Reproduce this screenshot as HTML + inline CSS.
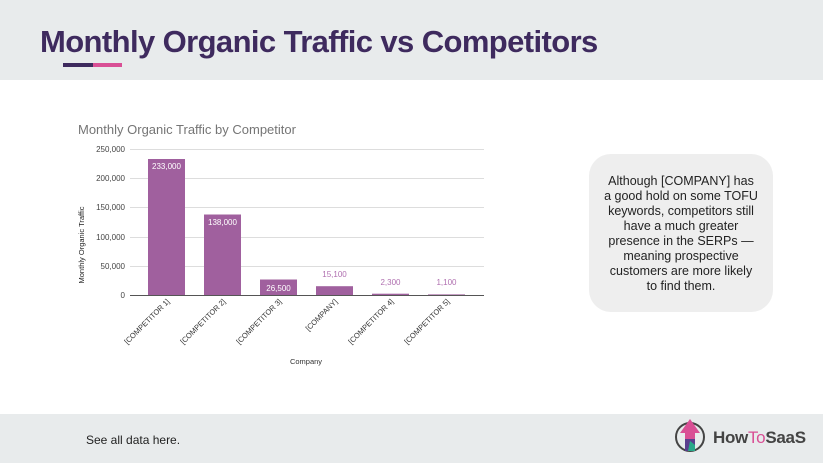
<!DOCTYPE html>
<html><head><meta charset="utf-8"><style>
html,body{margin:0;padding:0;}
body{width:823px;height:463px;position:relative;background:#fff;overflow:hidden;font-family:"Liberation Sans",sans-serif;}
.hdr{position:absolute;left:0;top:0;width:823px;height:80px;background:#e8ebec;}
.title{position:absolute;left:40px;top:24px;font-size:31px;font-weight:bold;color:#3e2a5e;letter-spacing:-0.6px;white-space:nowrap;}
.bar1{position:absolute;left:63px;top:63px;width:30px;height:4px;background:#3e2a5e;}
.bar2{position:absolute;left:93px;top:63px;width:29px;height:4px;background:#d94f95;}
.ftr{position:absolute;left:0;top:414px;width:823px;height:49px;background:#e8ebec;}
.see{position:absolute;left:86px;top:433px;font-size:12px;color:#222;}
.box{position:absolute;left:589px;top:154px;width:184px;height:158px;background:#eeeeee;border-radius:22px;}
.box div{position:absolute;left:0;top:20px;width:184px;text-align:center;font-size:12.5px;line-height:15px;color:#222;}
</style></head><body>
<div class="hdr"></div>
<div class="title">Monthly Organic Traffic vs Competitors</div>
<div class="bar1"></div><div class="bar2"></div>
<svg style="position:absolute;left:0;top:0" width="823" height="463" font-family="Liberation Sans, sans-serif">
<text x="78" y="134" font-size="13" fill="#757575">Monthly Organic Traffic by Competitor</text>
<g stroke="#dddddd" stroke-width="1">
<line x1="130" y1="149.5" x2="484" y2="149.5"/>
<line x1="130" y1="178.5" x2="484" y2="178.5"/>
<line x1="130" y1="207.5" x2="484" y2="207.5"/>
<line x1="130" y1="237.5" x2="484" y2="237.5"/>
<line x1="130" y1="266.5" x2="484" y2="266.5"/>
</g>
<g font-size="8" fill="#444" text-anchor="end">
<text x="125" y="152">250,000</text>
<text x="125" y="181">200,000</text>
<text x="125" y="210">150,000</text>
<text x="125" y="240">100,000</text>
<text x="125" y="269">50,000</text>
<text x="125" y="298">0</text>
</g>
<text transform="translate(84,245) rotate(-90)" font-size="7.5" fill="#222" text-anchor="middle">Monthly Organic Traffic</text>
<g fill="#a0609e">
<rect x="148" y="159" width="37" height="136"/>
<rect x="204" y="214.5" width="37" height="80.5"/>
<rect x="260" y="279.5" width="37" height="15.5"/>
<rect x="316" y="286.2" width="37" height="8.8"/>
<rect x="372" y="293.7" width="37" height="1.3"/>
<rect x="428" y="294.4" width="37" height="0.6"/>
</g>
<line x1="130" y1="295.5" x2="484" y2="295.5" stroke="#555" stroke-width="1"/>
<g font-size="8" text-anchor="middle">
<text x="166.5" y="169" fill="#fff">233,000</text>
<text x="222.5" y="225" fill="#fff">138,000</text>
<text x="278.5" y="291" fill="#fff">26,500</text>
<text x="334.5" y="277" fill="#b070b0">15,100</text>
<text x="390.5" y="285" fill="#b070b0">2,300</text>
<text x="446.5" y="285" fill="#b070b0">1,100</text>
</g>
<g font-size="7.5" fill="#333" text-anchor="end">
<text transform="translate(170,302) rotate(-45)">[COMPETITOR 1]</text>
<text transform="translate(226,302) rotate(-45)">[COMPETITOR 2]</text>
<text transform="translate(282,302) rotate(-45)">[COMPETITOR 3]</text>
<text transform="translate(338,302) rotate(-45)">[COMPANY]</text>
<text transform="translate(394,302) rotate(-45)">[COMPETITOR 4]</text>
<text transform="translate(450,302) rotate(-45)">[COMPETITOR 5]</text>
</g>
<text x="306" y="364" font-size="7.5" fill="#333" text-anchor="middle">Company</text>
</svg>
<div class="box"><div>Although [COMPANY] has<br>a good hold on some TOFU<br>keywords, competitors still<br>have a much greater<br>presence in the SERPs —<br>meaning prospective<br>customers are more likely<br>to find them.</div></div>
<div class="ftr"></div>
<div class="see">See all data here.</div>
<svg style="position:absolute;left:670px;top:415px" width="40" height="46">
<circle cx="20" cy="22" r="14" fill="none" stroke="#444" stroke-width="2"/>
<polygon points="20,4 30,18 25,18 25,36 15,36 15,18 10,18" fill="#d94f95"/>
<polygon points="15,24 25,24 25,36 15,36" fill="#5a3e8e"/>
<polygon points="20,26 25,30 25,36 18,36" fill="#2aa88a"/>
</svg>
<div style="position:absolute;left:713px;top:428px;font-size:17px;font-weight:bold;color:#444;letter-spacing:-0.3px;">How<span style="color:#d94f95;font-weight:normal">To</span>SaaS</div>
</body></html>
